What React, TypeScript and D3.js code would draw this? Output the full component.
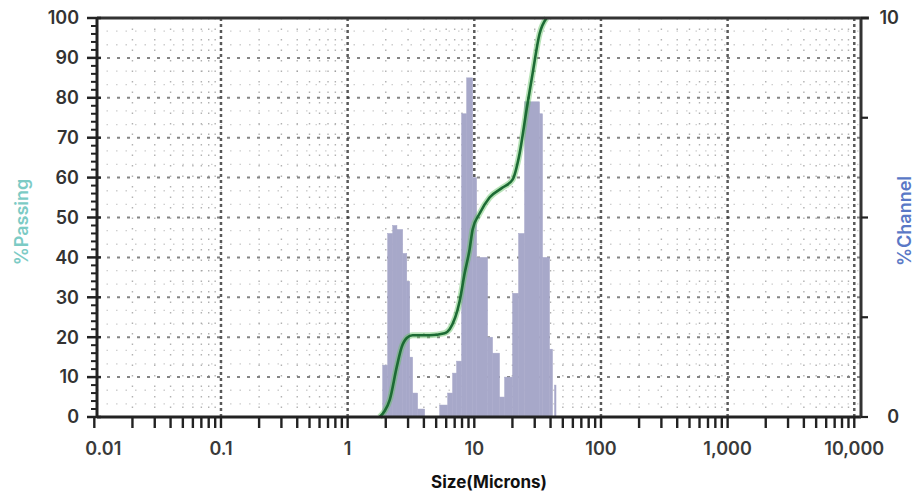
import React from 'react';
import * as d3 from 'd3';

// histogram channels (bin edges in microns, % per channel)
const binEdges = [1.89, 2.07, 2.27, 2.45, 2.72, 2.93, 3.09, 3.26, 3.57, 4.06, 5.33, 6.16, 6.74, 7.25, 7.94, 8.7, 9.7, 10.43, 12.73, 13.94, 15.82, 17.34, 20.05, 22.36, 24.93, 32.73, 34.57, 39.26, 41.45, 42.98, 44.17];
const channelPct = [1.3, 4.6, 4.8, 4.7, 4.1, 3.4, 1.5, 0.6, 0.2, 0, 0.3, 0.6, 1.1, 1.4, 7.6, 8.5, 6.0, 4.0, 2.0, 1.6, 0.5, 1.0, 3.1, 4.6, 7.9, 7.6, 4.0, 1.7, 0, 0.8];

// cumulative % passing
const cumSize = [1.79, 1.96, 2.15, 2.44, 2.67, 2.93, 3.26, 4.44, 5.83, 6.39, 7.66, 8.39, 9.18, 9.7, 11.01, 13.2, 16.72, 20.05, 22.77, 25.85, 28.83, 32.73, 37.24];
const cumPct = [0, 1.5, 4.3, 12.5, 17.5, 19.8, 20.5, 20.5, 21, 22, 29, 36, 42, 47, 51, 55, 57.5, 59.5, 66, 77, 86, 96, 100];

const xTicks = [0.01, 0.1, 1, 10, 100, 1000, 10000];
const xTickLabels = ['0.01', '0.1', '1', '10', '100', '1,000', '10,000'];
const passTicks = [0, 10, 20, 30, 40, 50, 60, 70, 80, 90, 100];
const channelTicks = [0, 2.5, 5, 7.5, 10];
const channelLabels = [0, 10];

const W = 922;
const H = 493;
const left = 97;
const right = 861;
const top = 18;
const bottom = 417;

const FONT = "Inter, 'Open Sans', 'DejaVu Sans', sans-serif";

export default function App() {
  const x = d3.scaleLog().domain([0.0105, 11300]).range([left, right]);
  const y = d3.scaleLinear().domain([0, 100]).range([bottom, top]);
  const yc = d3.scaleLinear().domain([0, 10]).range([bottom, top]);

  // minor positions: 1..9 x each decade
  const minor: number[] = [];
  for (let e = -2; e <= 4; e++) {
    for (let m = 1; m <= 9; m++) {
      const v = m * Math.pow(10, e);
      if (x(v) >= left - 4 && x(v) <= right) minor.push(v);
    }
  }
  const passMinor = d3.range(0, 101, 2);
  const lightRows = d3.range(0, 100, 10).flatMap(v => [v + 3.3, v + 6.7]);

  const line = d3.line<number>()
    .x((_, i) => x(cumSize[i]))
    .y(d => y(d))
    .curve(d3.curveMonotoneX);
  const pathD = line(cumPct) || '';

  const bars = channelPct.map((v, i) => ({ x0: binEdges[i], x1: binEdges[i + 1], v }));

  return (
    <svg width={W} height={H} style={{ position: 'absolute', left: 0, top: 0, background: '#fff' }}>
      {/* dotted grid */}
      <g>
        {lightRows.map(v => (
          <line key={'lr' + v} x1={left} x2={right} y1={y(v)} y2={y(v)}
            stroke="#888" strokeWidth={1.3} strokeDasharray="1.5 8" opacity={0.4} />
        ))}
        {passTicks.slice(1, -1).map(v => (
          <line key={'hg' + v} x1={left} x2={right} y1={y(v)} y2={y(v)}
            stroke="#444" strokeWidth={2} strokeDasharray="3 7" opacity={0.65} />
        ))}
        {minor.filter(v => x(v) > left + 2).map(v => {
          const isMajor = Math.abs(Math.log10(v) - Math.round(Math.log10(v))) < 1e-6;
          return (
            <line key={'vg' + v} x1={x(v)} x2={x(v)} y1={top} y2={bottom}
              stroke={isMajor ? '#333' : '#666'}
              strokeWidth={isMajor ? 2.5 : 1.4}
              strokeDasharray={isMajor ? '3 3' : '1.5 9'}
              opacity={isMajor ? 0.8 : 0.5} />
          );
        })}
      </g>

      {/* channel histogram */}
      <g>
        {bars.filter(b => b.v > 0).map((b, i) => (
          <rect key={'b' + i} x={x(b.x0)} y={yc(b.v)} width={x(b.x1) - x(b.x0)} height={bottom - yc(b.v)}
            fill="#a7a8c9" stroke="#a7a8c9" strokeWidth={0.5} />
        ))}
      </g>

      {/* cumulative curve */}
      <path d={pathD} fill="none" stroke="#5fc25f" strokeWidth={6} opacity={0.45} />
      <path d={pathD} fill="none" stroke="#1c6b34" strokeWidth={2.6} />

      {/* frame */}
      <line x1={left} x2={right + 8} y1={top} y2={top} stroke="#333" strokeWidth={3} />
      <line x1={left} x2={right} y1={bottom} y2={bottom} stroke="#222" strokeWidth={3} />
      <line x1={left} x2={left} y1={top - 1} y2={bottom + 1} stroke="#222" strokeWidth={3} />
      <line x1={right} x2={right} y1={top - 1} y2={bottom + 1} stroke="#333" strokeWidth={3} />

      {/* left axis ticks */}
      {passMinor.map(v => (
        <line key={'lt' + v} x1={v % 10 === 0 ? left - 10 : left - 6} x2={v % 10 === 0 ? left + 4 : left}
          y1={y(v)} y2={y(v)} stroke="#222" strokeWidth={v % 10 === 0 ? 2.5 : 2} />
      ))}
      {passTicks.map(v => (
        <text key={'ll' + v} x={79} y={y(v)} dy="0.35em" textAnchor="end"
          fontFamily={FONT} fontSize={18} fontWeight={600} fill="#333">{v}</text>
      ))}

      {/* right axis ticks */}
      {channelTicks.map(v => (
        <line key={'rt' + v} x1={right} x2={right + 7} y1={yc(v)} y2={yc(v)} stroke="#222" strokeWidth={2.2} />
      ))}
      {channelLabels.map(v => (
        <text key={'rl' + v} x={899} y={yc(v)} dy="0.35em" textAnchor="end"
          fontFamily={FONT} fontSize={18} fontWeight={600} fill="#333">{v}</text>
      ))}

      {/* bottom axis ticks */}
      {minor.map(v => (
        <line key={'bt' + v} x1={x(v)} x2={x(v)} y1={bottom} y2={bottom + 11} stroke="#222" strokeWidth={2.4} />
      ))}
      {xTicks.map((v, i) => (
        <text key={'bl' + v} x={i === 0 ? x(v) + 9 : x(v)} y={455} textAnchor="middle"
          fontFamily={FONT} fontSize={18} fontWeight={600} fill="#3a3a3a">{xTickLabels[i]}</text>
      ))}

      {/* axis titles */}
      <text transform={`translate(28,222) rotate(-90)`} textAnchor="middle"
        fontFamily={FONT} fontSize={18} fontWeight={600} fill="#7ccbc5">%Passing</text>
      <text transform={`translate(911,221) rotate(-90)`} textAnchor="middle"
        fontFamily={FONT} fontSize={18} fontWeight={600} fill="#5a78c6">%Channel</text>
      <text x={489} y={488} textAnchor="middle"
        fontFamily={FONT} fontSize={17} fontWeight={700} fill="#111">Size(Microns)</text>
    </svg>
  );
}
